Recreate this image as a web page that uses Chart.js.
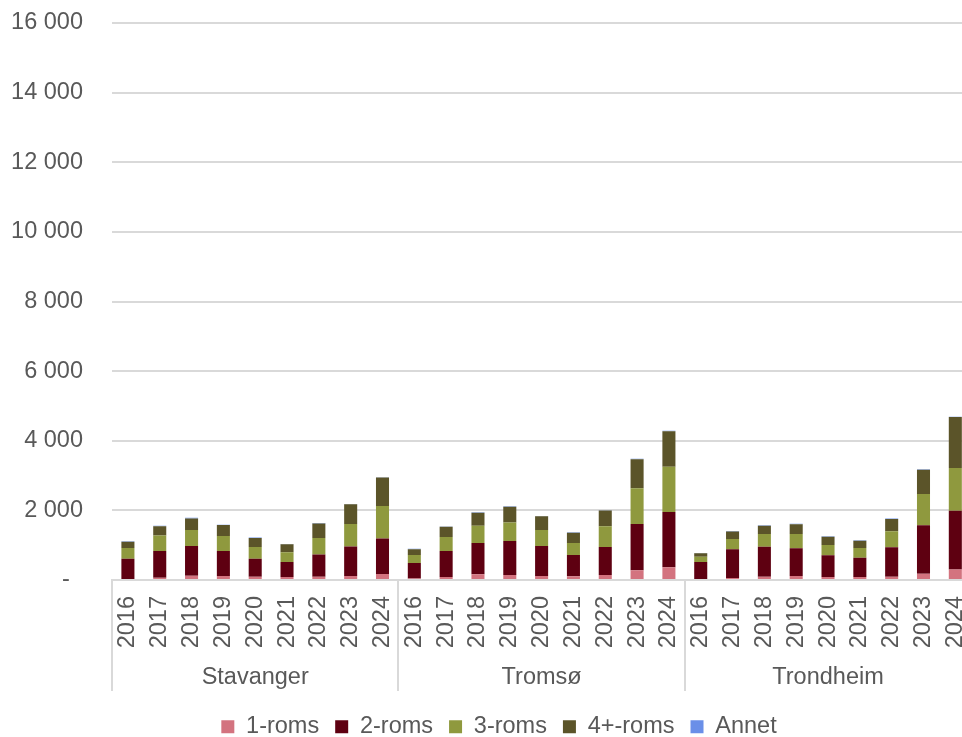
<!DOCTYPE html>
<html>
<head>
<meta charset="utf-8">
<script src="https://cdn.jsdelivr.net/npm/chart.js@4.4.0/dist/chart.umd.min.js"></script>
<style>
html, body { margin: 0; padding: 0; background: #fff; overflow: hidden; }
#wrap { width: 1000px; height: 737px; }
</style>
</head>
<body>
<div id="wrap"><canvas id="chart"></canvas></div>
<script>
var cities = ['Stavanger', 'Tromsø', 'Trondheim'];
var years = ['2016', '2017', '2018', '2019', '2020', '2021', '2022', '2023', '2024'];

// per city, 2016-2024 (Stavanger, Tromsø, Trondheim)
var roms1 = [30, 65, 125, 115, 95, 85, 95, 115, 175,
             40, 85, 165, 145, 115, 105, 145, 280, 365,
             30, 55, 95, 115, 85, 85, 95, 180, 305];
var roms2 = [580, 770, 850, 720, 515, 430, 640, 845, 1020,
             450, 750, 900, 975, 860, 615, 805, 1330, 1590,
             490, 825, 860, 795, 625, 555, 845, 1390, 1685];
var roms3 = [310, 440, 460, 430, 335, 280, 470, 650, 930,
             230, 400, 490, 535, 460, 345, 595, 1025, 1295,
             150, 295, 365, 410, 295, 280, 460, 900, 1225];
var roms4 = [180, 270, 335, 315, 265, 230, 420, 565, 820,
             165, 295, 380, 450, 395, 295, 450, 835, 1025,
             95, 220, 240, 280, 240, 210, 355, 700, 1465];
var annet = [10, 15, 15, 10, 10, 10, 15, 10, 10,
             10, 10, 10, 10, 10, 10, 10, 10, 10,
             10, 15, 15, 15, 10, 10, 10, 10, 10];

var yTicks = [0, 2000, 4000, 6000, 8000, 10000, 12000, 14000, 16000];

var labels = [];
cities.forEach(function () {
    years.forEach(function (y) { labels.push(y); });
});

var txt = '#595959';
var line = '#d9d9d9';
var font = { family: "'Liberation Sans', Arial, sans-serif", size: 23.5 };

function fmt(v) {
    if (v === 0) return '-  ';
    return String(v).replace(/\B(?=(\d{3})+(?!\d))/g, ' ');
}

// legend height fixed, legend nudged, separators between city groups
var groupLines = {
    id: 'groupLines',
    beforeInit: function (chart) {
        var fit = chart.legend.fit;
        chart.legend.fit = function () {
            fit.call(this);
            this.height = 46;
        };
    },
    afterLayout: function (chart) {
        var lg = chart.legend;
        lg.left += 12;
        lg.right += 12;
        lg.top += 8;
        lg.bottom += 8;
    },
    afterDraw: function (chart) {
        var x = chart.scales.x, x2 = chart.scales.x2, ctx = chart.ctx;
        ctx.save();
        ctx.strokeStyle = line;
        ctx.lineWidth = 2;
        for (var i = 0; i <= labels.length; i += years.length) {
            var px = Math.round(x.getPixelForValue(i - 0.5));
            ctx.beginPath();
            ctx.moveTo(px, chart.chartArea.bottom);
            ctx.lineTo(px, x2.bottom);
            ctx.stroke();
        }
        ctx.restore();
    }
};

function ds(label, data, color) {
    return {
        label: label,
        data: data,
        backgroundColor: color,
        borderWidth: 0,
        categoryPercentage: 1,
        barPercentage: 0.41
    };
}

var ctx = document.getElementById('chart').getContext('2d');
var chart = new Chart(ctx, {
    type: 'bar',
    data: {
        labels: labels,
        datasets: [
            ds('1-roms', roms1, '#d3737f'),
            ds('2-roms', roms2, '#5e0011'),
            ds('3-roms', roms3, '#8f993e'),
            ds('4+-roms', roms4, '#5b5429'),
            ds('Annet', annet, '#6a8fe8')
        ]
    },
    plugins: [groupLines],
    options: {
        animation: false,
        responsive: true,
        maintainAspectRatio: false,
        layout: { padding: { top: 23, left: 0, right: 26, bottom: 0 } },
        plugins: {
            tooltip: { enabled: false },
            legend: {
                display: true,
                position: 'bottom',
                labels: {
                    boxWidth: 13,
                    boxHeight: 13,
                    padding: 16,
                    color: txt,
                    font: font
                }
            }
        },
        scales: {
            x: {
                stacked: true,
                grid: { display: false, drawTicks: false },
                border: { display: true, color: line, width: 2 },
                afterFit: function (s) { s.height = 70; },
                ticks: {
                    autoSkip: false,
                    minRotation: 90,
                    maxRotation: 90,
                    padding: 16,
                    color: txt,
                    font: font
                }
            },
            x2: {
                type: 'category',
                labels: cities,
                position: 'bottom',
                offset: true,
                grid: { display: false, drawTicks: false },
                border: { display: false },
                afterFit: function (s) { s.height = 41; },
                ticks: { padding: 13, color: txt, font: font }
            },
            y: {
                stacked: true,
                min: 0,
                max: 16000,
                afterFit: function (s) {
                    s.width = 112;
                    s.paddingTop = 0;
                    s.paddingBottom = 0;
                },
                afterBuildTicks: function (s) {
                    s.ticks = yTicks.map(function (v) { return { value: v }; });
                },
                grid: { color: line, lineWidth: 2, drawTicks: false },
                border: { display: false },
                ticks: {
                    padding: 29,
                    color: txt,
                    font: font,
                    callback: function (v) { return fmt(v); }
                }
            }
        }
    }
});
</script>
</body>
</html>
